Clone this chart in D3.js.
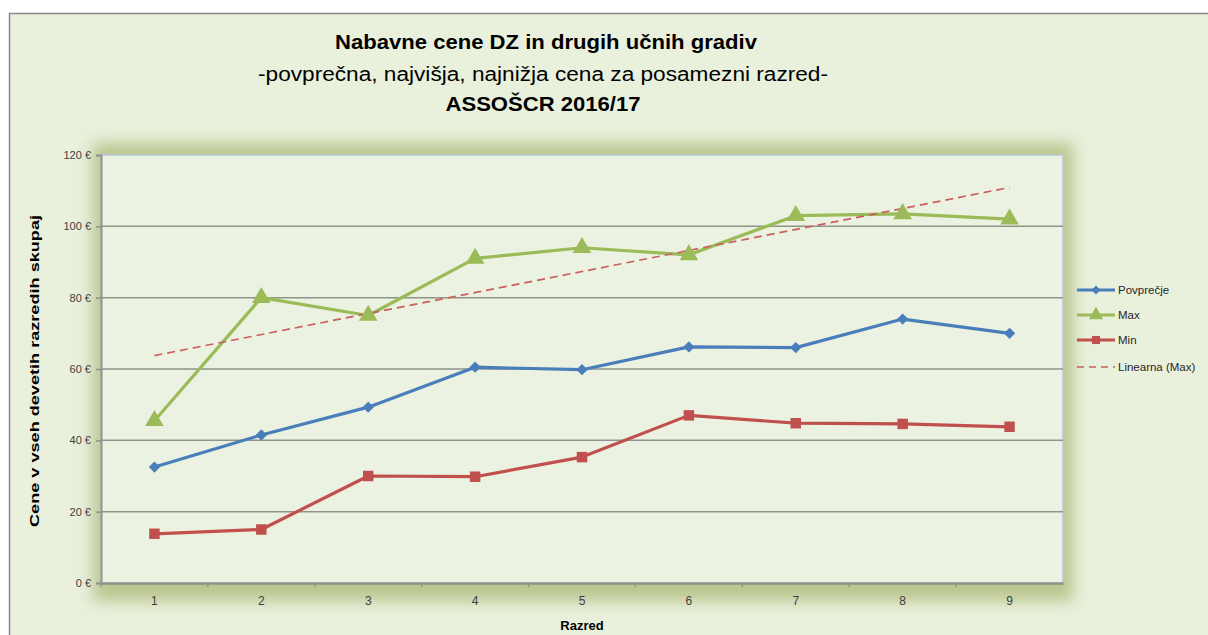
<!DOCTYPE html>
<html>
<head>
<meta charset="utf-8">
<script src="https://cdn.jsdelivr.net/npm/d3@7/dist/d3.min.js"></script>
<style>
  html, body { margin: 0; padding: 0; background: #ffffff; }
  svg { display: block; }
</style>
</head>
<body>
<svg id="chart" width="1208" height="635"></svg>
<script>
// ---- data ----
const categories = ["1", "2", "3", "4", "5", "6", "7", "8", "9"];
const avgValues = [32.5, 41.5, 49.3, 60.5, 59.8, 66.2, 66.0, 74.0, 70.0];
const maxValues = [45.5, 80.0, 75.0, 91.0, 94.0, 92.0, 103.0, 103.5, 102.0];
const minValues = [13.8, 15.0, 30.0, 29.8, 35.3, 47.0, 44.8, 44.6, 43.8];
const yTicks = [0, 20, 40, 60, 80, 100, 120];
const seriesNames = ["Povprečje", "Max", "Min", "Linearna (Max)"];
const titleLines = ["Nabavne cene DZ in drugih učnih gradiv",
                    "-povprečna, najvišja, najnižja cena za posamezni razred-",
                    "ASSOŠCR 2016/17"];
const yAxisTitle = "Cene v vseh devetih razredih skupaj";
const xAxisTitle = "Razred";

// linear trendline (least squares) of Max, as the spreadsheet computes it
const n = maxValues.length;
const xs = maxValues.map((_, i) => i + 1);
const mx = d3.mean(xs), my = d3.mean(maxValues);
const slope = d3.sum(xs.map((x, i) => (x - mx) * (maxValues[i] - my))) / d3.sum(xs.map(x => (x - mx) ** 2));
const intercept = my - slope * mx;
const trendValues = [intercept + slope * 1, intercept + slope * n];
const trendCats = [categories[0], categories[n - 1]];

// ---- layout ----
const svg = d3.select("#chart");
const W = 1208, H = 635;
const plot = { left: 101, right: 1063, top: 155, bottom: 583 };
const bg = "#e9f0dc";
const font = "'Liberation Sans', Arial, sans-serif";

const defs = svg.append("defs");
const glow = defs.append("filter").attr("id", "glow")
  .attr("x", "-10%").attr("y", "-20%").attr("width", "120%").attr("height", "140%");
glow.append("feGaussianBlur").attr("stdDeviation", 8);

// outer chart area
svg.append("rect").attr("x", 0).attr("y", 0).attr("width", W).attr("height", H).attr("fill", "#ffffff");
svg.append("rect").attr("x", 9.5).attr("y", 13.5).attr("width", W + 10).attr("height", H + 10)
  .attr("fill", bg).attr("stroke", "#8a8a8a").attr("stroke-width", 1.5);

// plot glow
svg.append("rect")
  .attr("x", plot.left - 8).attr("y", plot.top - 12)
  .attr("width", plot.right - plot.left + 18).attr("height", plot.bottom - plot.top + 30)
  .attr("fill", "#b9c58e").attr("filter", "url(#glow)");
svg.append("rect")
  .attr("x", plot.left).attr("y", plot.top)
  .attr("width", plot.right - plot.left).attr("height", plot.bottom - plot.top)
  .attr("fill", "#ecf2e1").attr("stroke", "#b7c9dd").attr("stroke-width", 1.5);

// scales
const x = d3.scaleBand().domain(categories).range([plot.left, plot.right]);
const xc = d => x(d) + x.bandwidth() / 2;
const y = d3.scaleLinear().domain([0, 120]).range([plot.bottom, plot.top]);

// gridlines
svg.append("g").selectAll("line").data(yTicks.filter(t => t > 0 && t < 120)).join("line")
  .attr("x1", plot.left).attr("x2", plot.right)
  .attr("y1", d => y(d)).attr("y2", d => y(d))
  .attr("stroke", "#8f938a").attr("stroke-width", 1.5);

// y axis
const yAxis = d3.axisLeft(y).tickValues(yTicks).tickSize(5).tickPadding(5)
  .tickFormat(d => d + " €");
const gy = svg.append("g").attr("transform", `translate(${plot.left},0)`).call(yAxis);
gy.select(".domain").attr("stroke", "#8f938a").attr("stroke-width", 2);
gy.selectAll(".tick line").attr("stroke", "#8f938a").attr("stroke-width", 1.5);
gy.selectAll(".tick text").attr("font-family", font).attr("font-size", 11).attr("fill", "#404040");

// x axis
const xAxis = d3.axisBottom(x).tickSize(0).tickPadding(13);
const gx = svg.append("g").attr("transform", `translate(0,${plot.bottom})`).call(xAxis);
gx.select(".domain").attr("stroke", "#8f938a").attr("stroke-width", 2.5);
gx.selectAll(".tick text").attr("font-family", font).attr("font-size", 12).attr("fill", "#404040");
// tick marks at category boundaries
svg.append("g").selectAll("line").data(categories.slice(1)).join("line")
  .attr("x1", d => x(d)).attr("x2", d => x(d))
  .attr("y1", plot.bottom).attr("y2", plot.bottom + 4)
  .attr("stroke", "#8f938a").attr("stroke-width", 1.5);
svg.append("line").attr("x1", plot.left).attr("x2", plot.left)
  .attr("y1", plot.bottom).attr("y2", plot.bottom + 4)
  .attr("stroke", "#8f938a").attr("stroke-width", 1.5);

// lines
const line = d3.line().x((d, i) => xc(categories[i])).y(d => y(d));
const series = [
  { name: seriesNames[0], values: avgValues, color: "#4a7ebb", marker: d3.symbolSquare, size: 64, rot: 45 },
  { name: seriesNames[1], values: maxValues, color: "#9bbb59", marker: d3.symbolTriangle, size: 150, rot: 0 },
  { name: seriesNames[2], values: minValues, color: "#c0504d", marker: d3.symbolSquare, size: 110, rot: 0 }
];

series.forEach(s => {
  svg.append("path").datum(s.values).attr("d", line)
    .attr("fill", "none").attr("stroke", s.color).attr("stroke-width", 3.2)
    .attr("stroke-linejoin", "round");
});

// trendline
svg.append("line")
  .attr("x1", xc(trendCats[0])).attr("y1", y(trendValues[0]))
  .attr("x2", xc(trendCats[1])).attr("y2", y(trendValues[1]))
  .attr("stroke", "#c9605c").attr("stroke-width", 1.7).attr("stroke-dasharray", "8,5");

series.forEach(s => {
  svg.append("g").selectAll("path").data(s.values).join("path")
    .attr("transform", (d, i) => `translate(${xc(categories[i])},${y(d)}) rotate(${s.rot})`)
    .attr("d", d3.symbol().type(s.marker).size(s.size))
    .attr("fill", s.color);
});

// legend
const lg = svg.append("g").attr("font-family", font).attr("font-size", 11.5).attr("fill", "#262626");
const legendY = [290, 315, 340, 367];
const lx1 = 1077, lx2 = 1115;
series.forEach((s, i) => {
  lg.append("line").attr("x1", lx1).attr("x2", lx2).attr("y1", legendY[i]).attr("y2", legendY[i])
    .attr("stroke", s.color).attr("stroke-width", 3);
  lg.append("path").attr("transform", `translate(${(lx1 + lx2) / 2},${legendY[i]}) rotate(${s.rot})`)
    .attr("d", d3.symbol().type(s.marker).size(s.size * 0.6)).attr("fill", s.color);
  lg.append("text").attr("x", lx2 + 3).attr("y", legendY[i]).attr("dy", "0.35em").text(s.name);
});
lg.append("line").attr("x1", lx1).attr("x2", lx2).attr("y1", legendY[3]).attr("y2", legendY[3])
  .attr("stroke", "#c9605c").attr("stroke-width", 1.5).attr("stroke-dasharray", "7,5");
lg.append("text").attr("x", lx2 + 3).attr("y", legendY[3]).attr("dy", "0.35em").text(seriesNames[3]);

// titles
const tg = svg.append("g").attr("font-family", font).attr("fill", "#000").attr("text-anchor", "middle");
tg.append("text").attr("x", 546).attr("y", 49).attr("font-size", 20).attr("font-weight", "bold")
  .attr("textLength", 422).attr("lengthAdjust", "spacingAndGlyphs").text(titleLines[0]);
tg.append("text").attr("x", 543).attr("y", 81).attr("font-size", 20)
  .attr("textLength", 570).attr("lengthAdjust", "spacingAndGlyphs").text(titleLines[1]);
tg.append("text").attr("x", 543).attr("y", 111).attr("font-size", 20).attr("font-weight", "bold")
  .attr("textLength", 195).attr("lengthAdjust", "spacingAndGlyphs").text(titleLines[2]);

// axis titles
svg.append("text").attr("transform", `translate(39,371) rotate(-90)`)
  .attr("text-anchor", "middle").attr("font-family", font).attr("font-size", 13.5)
  .attr("font-weight", "bold").attr("fill", "#000")
  .attr("textLength", 312).attr("lengthAdjust", "spacingAndGlyphs").text(yAxisTitle);
svg.append("text").attr("x", 582).attr("y", 630)
  .attr("text-anchor", "middle").attr("font-family", font).attr("font-size", 13)
  .attr("font-weight", "bold").attr("fill", "#000").text(xAxisTitle);
</script>
</body>
</html>
